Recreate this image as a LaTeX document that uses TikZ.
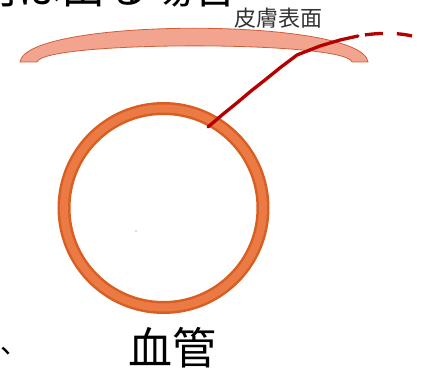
\documentclass[tikz,border=0pt]{standalone}
\usepackage{fontspec}
\newfontfamily\jpfont{Noto Sans CJK JP}
\definecolor{skinfill}{RGB}{243,164,143}
\definecolor{skinline}{RGB}{205,95,58}
\definecolor{ringdark}{RGB}{216,94,34}
\definecolor{ringlight}{RGB}{236,122,68}
\definecolor{nerve}{RGB}{180,0,0}
\tikzset{
  bigtext/.style={font=\jpfont\fontsize{44}{44}\selectfont, inner sep=0pt},
  marktext/.style={font=\jpfont\fontsize{28}{28}\selectfont, inner sep=0pt},
  smalltext/.style={font=\jpfont\fontsize{22}{22}\selectfont, inner sep=0pt, text=black!80},
  nerveline/.style={draw=nerve, line width=3.3pt, line cap=round, line join=round}
}
\begin{document}
\begin{tikzpicture}[x=1pt,y=-1pt]
\useasboundingbox (0,0) rectangle (423,374);
\clip (0,0) rectangle (423,374);
% cut-off text at top (only its lowest strokes show)
\node[bigtext, anchor=base west] (toptext) at (-27,4) {内は出る場合};
% cut-off mark bottom-left
\node[marktext, anchor=base west] (comma) at (0.8,353) {、};
% skin surface band
\path[fill=skinfill, draw=skinline, line width=0.8pt]
  (20,62) .. controls (26,17) and (362,17) .. (368,62)
  -- (352,62) .. controls (346,40.5) and (43,40.5) .. (37,62) -- cycle;
\node[smalltext] (skin) at (278,18) {皮膚表面};
% blood vessel ring
\node[circle, minimum size=199pt, inner sep=0pt] (vessel) at (163.5,208) {};
\draw[ringdark, line width=13pt] (vessel.center) circle[radius=99.5pt];
\draw[ringlight, line width=8pt] (vessel.center) circle[radius=99.5pt];
\fill[black!60] (136,231) circle[radius=0.7pt];
% nerve
\coordinate (n0) at (208,127);
\coordinate (n1) at (358,36);
\coordinate (n2) at (412,36);
\path[nerveline] (n0) -- (222,115) -- (238,102) -- (251,91) -- (265,80) -- (281,67) -- (297,55) -- (320,46) -- (340,40) -- (n1);
\path[nerveline, line cap=butt, dash pattern=on 0pt off 7pt on 18pt off 14pt on 20pt]
  (n1) .. controls (375,33) and (395,32) .. (n2);
\node[bigtext] (vesseltext) at (172,348) {血管};
\end{tikzpicture}
\end{document}
